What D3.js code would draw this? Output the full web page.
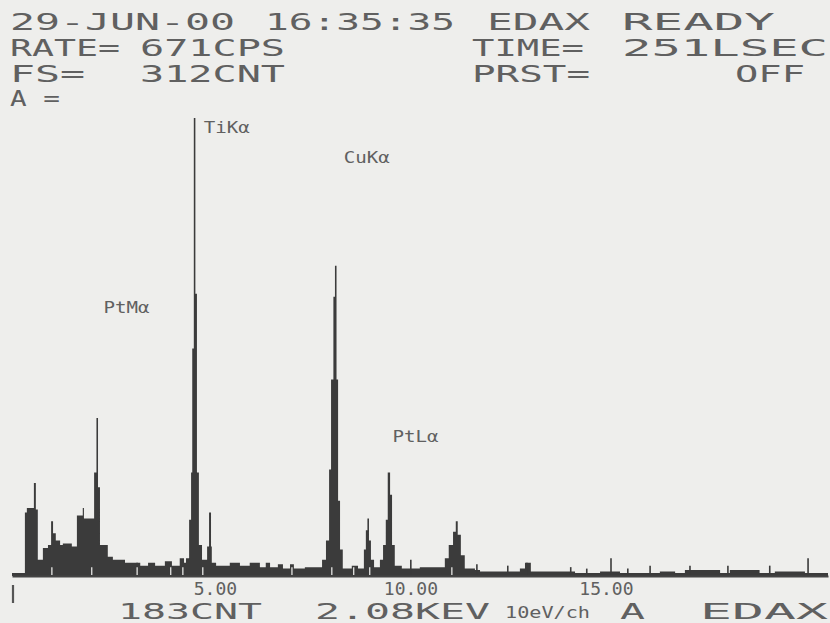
<!DOCTYPE html>
<html>
<head>
<meta charset="utf-8">
<script src="https://cdn.jsdelivr.net/npm/d3@7"></script>
<style>
  body { margin: 0; background: #eeeeec; }
  svg { display: block; }
</style>
</head>
<body>
<div id="spectrum"></div>
<script>
// screen text of the EDAX display
var headerLine1 = ["29-JUN-00", "16:35:35", "EDAX", "READY"];
var headerLine2 = ["RATE=", "671CPS", "TIME=", "251LSEC"];
var headerLine3 = ["FS=", "312CNT", "PRST=", "OFF"];
var headerLine4 = ["A ="];
var footerText = ["183CNT", "2.08KEV", "10eV/ch", "A", "EDAX"];

// full scale of the display in counts
var fullScale = 312;

// spectrum: bin start energy (keV) and counts
var binKeV = [
  -0.19, 0.14, 0.19, 0.37, 0.42, 0.47, 0.60, 0.73, 0.81, 0.86,
  0.93, 1.04, 1.11, 1.34, 1.47, 1.62, 1.65, 1.91, 1.97, 2.01,
  2.06, 2.26, 2.39, 2.70, 2.83, 3.09, 3.29, 3.47, 3.72, 3.90,
  4.10, 4.21, 4.26, 4.34, 4.39, 4.42, 4.46, 4.50, 4.54, 4.59,
  4.67, 4.80, 4.85, 4.90, 4.92, 5.03, 5.38, 5.64, 5.89, 6.15,
  6.30, 6.41, 6.61, 6.74, 6.92, 7.02, 7.30, 7.74, 7.84, 7.92,
  7.97, 8.03, 8.07, 8.11, 8.15, 8.20, 8.27, 8.50, 8.66, 8.81,
  8.86, 8.90, 8.94, 8.99, 9.07, 9.22, 9.30, 9.37, 9.42, 9.48,
  9.53, 9.60, 9.78, 10.24, 10.88, 10.98, 11.09, 11.16, 11.21, 11.29,
  11.39, 11.65, 11.78, 12.80, 12.93, 13.08, 13.31, 14.21, 14.85, 15.36,
  16.38, 16.77, 17.02, 17.92, 18.17, 18.93, 19.32, 20.09, 20.68
];
var binCounts = [
  2, 43, 46, 63, 45, 11, 19, 21, 37, 29,
  24, 21, 22, 20, 41, 46, 39, 70, 107, 60,
  21, 13, 11, 9, 9, 7, 9, 7, 10, 7,
  12, 9, 12, 38, 70, 154, 310, 191, 70, 21,
  11, 20, 43, 20, 9, 7, 9, 7, 9, 6,
  9, 6, 8, 5, 8, 5, 6, 11, 24, 72,
  133, 189, 210, 133, 51, 18, 5, 7, 5, 18,
  31, 39, 24, 11, 6, 11, 21, 38, 70, 55,
  21, 7, 5, 6, 12, 21, 30, 37, 28, 14,
  5, 4, 3, 5, 9, 3, 3, 2, 3, 2,
  3, 2, 4, 2, 4, 2, 3, 2, 2
];

// single channel spikes
var spikeKeV = [3.01, 10.01, 11.70, 12.49, 12.98, 14.10, 14.51, 15.13, 15.56, 16.13, 17.15, 18.12, 19.19, 20.17];
var spikeCounts = [9, 11, 8, 7, 9, 6, 5, 12, 5, 7, 7, 7, 7, 12];

// empty channels showing as white notches in the fill
var notchKeV = [0.83, 1.85, 3.01, 3.87, 4.18, 4.69, 6.97, 7.99, 8.55, 8.96, 11.06];
var notchCount = 6;

// energy ticks
var tickKeV = [5, 10, 15];

// line identification
var peakNames = ["PtM\u03b1", "TiK\u03b1", "CuK\u03b1", "PtL\u03b1"];
var peakKeV = [2.05, 4.51, 8.04, 9.44];

var width = 830, height = 623;
var ink = "#3b3b3b";
var textInk = "#606060";
var mono = "'DejaVu Sans Mono', 'Liberation Mono', monospace";

var svg = d3.select("#spectrum")
  .append("svg")
  .attr("width", width)
  .attr("height", height);

svg.append("rect")
  .attr("width", width)
  .attr("height", height)
  .attr("fill", "#eeeeec");

// scales: energy across, counts up
var x = d3.scaleLinear().domain([-0.19, 20.68]).range([12, 828]);
var y = d3.scaleLinear().domain([0, fullScale]).range([576, 115]);

// the spectrum as a filled step shape
var points = binKeV.map((e, i) => ({ e: e, c: binCounts[i] }));
var area = d3.area()
  .curve(d3.curveStepAfter)
  .x(d => x(d.e))
  .y0(y(0))
  .y1(d => y(d.c));

svg.append("path")
  .datum(points)
  .attr("d", area)
  .attr("fill", ink);

// thin spikes
svg.append("g")
  .selectAll("line")
  .data(spikeKeV)
  .enter()
  .append("line")
  .attr("x1", d => x(d))
  .attr("x2", d => x(d))
  .attr("y1", y(0))
  .attr("y2", (d, i) => y(spikeCounts[i]))
  .attr("stroke", ink)
  .attr("stroke-width", 1.6);

// white notches
svg.append("g")
  .selectAll("line")
  .data(notchKeV)
  .enter()
  .append("line")
  .attr("x1", d => x(d))
  .attr("x2", d => x(d))
  .attr("y1", y(0) - 1)
  .attr("y2", y(notchCount))
  .attr("stroke", "#f4f4f2")
  .attr("stroke-width", 1.2);

// energy axis
var xAxis = d3.axisBottom(x)
  .tickValues(tickKeV)
  .tickFormat(d3.format(".2f"))
  .tickSize(0)
  .tickSizeOuter(0)
  .tickPadding(6);

var axisG = svg.append("g")
  .attr("transform", `translate(0, ${y(0)})`)
  .call(xAxis);
axisG.select(".domain").attr("stroke", "#444").attr("stroke-width", 2.2);
axisG.selectAll("text")
  .attr("fill", textInk)
  .style("font-family", mono)
  .style("font-size", "18px");

// cursor mark at the left end
svg.append("line")
  .attr("x1", 13).attr("x2", 13)
  .attr("y1", 585).attr("y2", 603)
  .attr("stroke", "#555")
  .attr("stroke-width", 2.2);

// peak labels next to their lines
var labelDx = [4, 8, 10, 4];
var labelY = [313, 133, 163, 442];
svg.append("g")
  .selectAll("text")
  .data(peakNames)
  .enter()
  .append("text")
  .attr("x", (d, i) => x(peakKeV[i]) + labelDx[i])
  .attr("y", (d, i) => labelY[i])
  .attr("textLength", 46)
  .attr("lengthAdjust", "spacingAndGlyphs")
  .attr("fill", textInk)
  .style("font-family", mono)
  .style("font-size", "16px")
  .text(d => d);

// header text, placed like the fixed screen fields
function screenText(words, xs, widths, baseline, size) {
  words.forEach((w, i) => {
    svg.append("text")
      .attr("x", xs[i])
      .attr("y", baseline)
      .attr("textLength", widths[i])
      .attr("lengthAdjust", "spacingAndGlyphs")
      .attr("fill", textInk)
      .style("font-family", mono)
      .style("font-size", size + "px")
      .text(w);
  });
}

screenText(headerLine1, [10, 265, 487, 622], [225, 190, 103, 153], 30, 23);
screenText(headerLine2, [10, 140, 472, 622], [110, 145, 112, 206], 56, 23);
screenText(headerLine3, [10, 140, 472, 735], [75, 145, 118, 70], 82, 23);
screenText(headerLine4, [10], [50], 106, 21);

// footer line
screenText([footerText[0], footerText[1], footerText[3], footerText[4]],
  [118, 315, 620, 700], [144, 175, 25, 128], 619, 22);
screenText([footerText[2]], [505], [85], 618, 16);
</script>
</body>
</html>
